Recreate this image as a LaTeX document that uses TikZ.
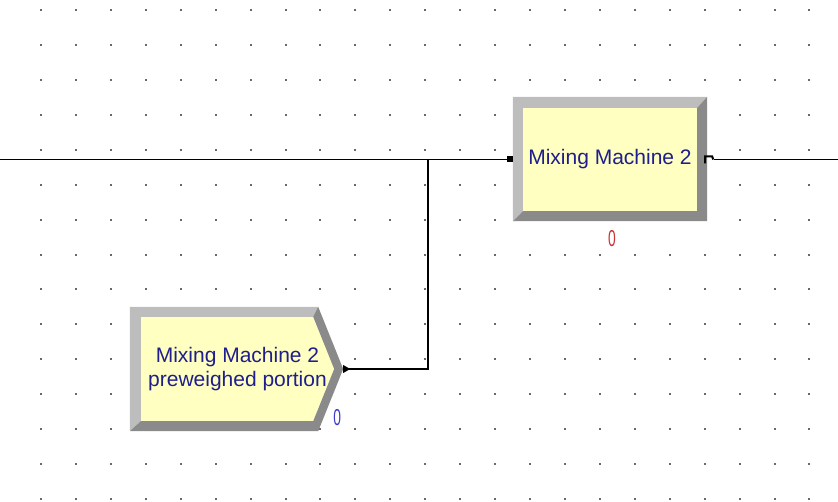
\documentclass[tikz,border=0pt]{standalone}
\usepackage{fontspec}
\usepackage{tikz}
\usetikzlibrary{calc,backgrounds}
\newfontfamily\arenafont{Liberation Sans}

\definecolor{machyellow}{HTML}{FFFFC2}
\definecolor{bevlight}{HTML}{BDBDBD}
\definecolor{bevdark}{HTML}{8A8A8A}
\definecolor{dotgray}{HTML}{686868}
\definecolor{txtblue}{HTML}{1E1E8C}
\definecolor{cntred}{HTML}{C83232}
\definecolor{cntblue}{HTML}{3C3CC8}

\begin{document}
\begin{tikzpicture}[x=1pt, y=-1pt,
    modbox/.style={rectangle, inner sep=0pt, align=center, text=txtblue,
        font=\arenafont\fontsize{21}{23.5}\selectfont},
    countlbl/.style={inner sep=0pt, font=\arenafont\fontsize{23}{23}\selectfont},
    conn/.style={line width=1.8pt, black}]
    \useasboundingbox (0,0) rectangle (838,502);

    % Draw grid of dots
    \begin{scope}[on background layer]
        \foreach \i in {0,...,22}
            \foreach \j in {0,...,14}
                \fill[dotgray] (40+34.93*\i, 9+34.93*\j) rectangle ++(2,2);
    \end{scope}

    % Draw the process module
    \node[modbox, fill=machyellow, minimum width=174pt, minimum height=103pt]
        (mach) at (610,159.5) {Mixing Machine 2};
    \node[countlbl, text=cntred] (machcnt) at ($(mach.south)+(2,27)$) {\scalebox{0.6}[1]{0}};

    % Draw the create module
    \node[modbox, minimum width=193pt, minimum height=104pt]
        (prew) at (237.5,369) {Mixing Machine 2\\preweighed portion};
    \node[countlbl, text=cntblue] (prewcnt) at ($(prew.south east)+(3,-4)$) {\scalebox{0.6}[1]{0}};

    % Bevelled frames
    \begin{scope}[on background layer]
        \fill[bevlight] ($(mach.north west)+(-10,-11)$) -- ($(mach.north east)+(10,-11)$)
            -- (mach.north east) -- (mach.north west) -- (mach.south west)
            -- ($(mach.south west)+(-10,10)$) -- cycle;
        \fill[bevdark] ($(mach.north east)+(10,-11)$) -- ($(mach.south east)+(10,10)$)
            -- ($(mach.south west)+(-10,10)$) -- (mach.south west)
            -- (mach.south east) -- (mach.north east) -- cycle;

        \coordinate (pi1) at (prew.north west);
        \coordinate (pi2) at ($(prew.north east)+(-21,0)$);
        \coordinate (pi3) at (prew.east);
        \coordinate (pi4) at ($(prew.south east)+(-21,0)$);
        \coordinate (pi5) at (prew.south west);
        \fill[machyellow] (pi1) -- (pi2) -- (pi3) -- (pi4) -- (pi5) -- cycle;
        \fill[bevlight] ($(pi1)+(-11,-10)$) -- ($(pi2)+(5,-10)$) -- (pi2) -- (pi1)
            -- (pi5) -- ($(pi5)+(-11,10)$) -- cycle;
        \fill[bevdark] ($(pi2)+(5,-10)$) -- ($(pi3)+(9,0)$) -- ($(pi4)+(5,10)$)
            -- ($(pi5)+(-11,10)$) -- (pi5) -- (pi4) -- (pi3) -- (pi2) -- cycle;
    \end{scope}

    % Connection points
    \coordinate (machin) at ($(mach.west)+(-13,0)$);
    \coordinate (machout) at ($(mach.east)+(8,0)$);
    \coordinate (prewtip) at ($(prew.east)+(9,0)$);
    \coordinate (junc) at ($(machin)+(-82,0)$);
    \coordinate (lefend) at (0,159.5);
    \coordinate (rigend) at (838,159.5);

    % Draw connectors
    \draw[conn] (lefend) -- (machin);
    \draw[conn] (prewtip) -| (junc);
    \draw[conn] ($(machout)+(9,0)$) -- (rigend);
    \fill (machin) ++(-3,-3) rectangle ++(6,6);
    \fill (prewtip) ++(0,-4) -- ++(7,4) -- ++(-7,4) -- cycle;
    \draw[line width=2pt] ($(machout)+(0,4)$) -- ++(0,-7) -- ++(7,0) -- ++(1,3);
\end{tikzpicture}
\end{document}
